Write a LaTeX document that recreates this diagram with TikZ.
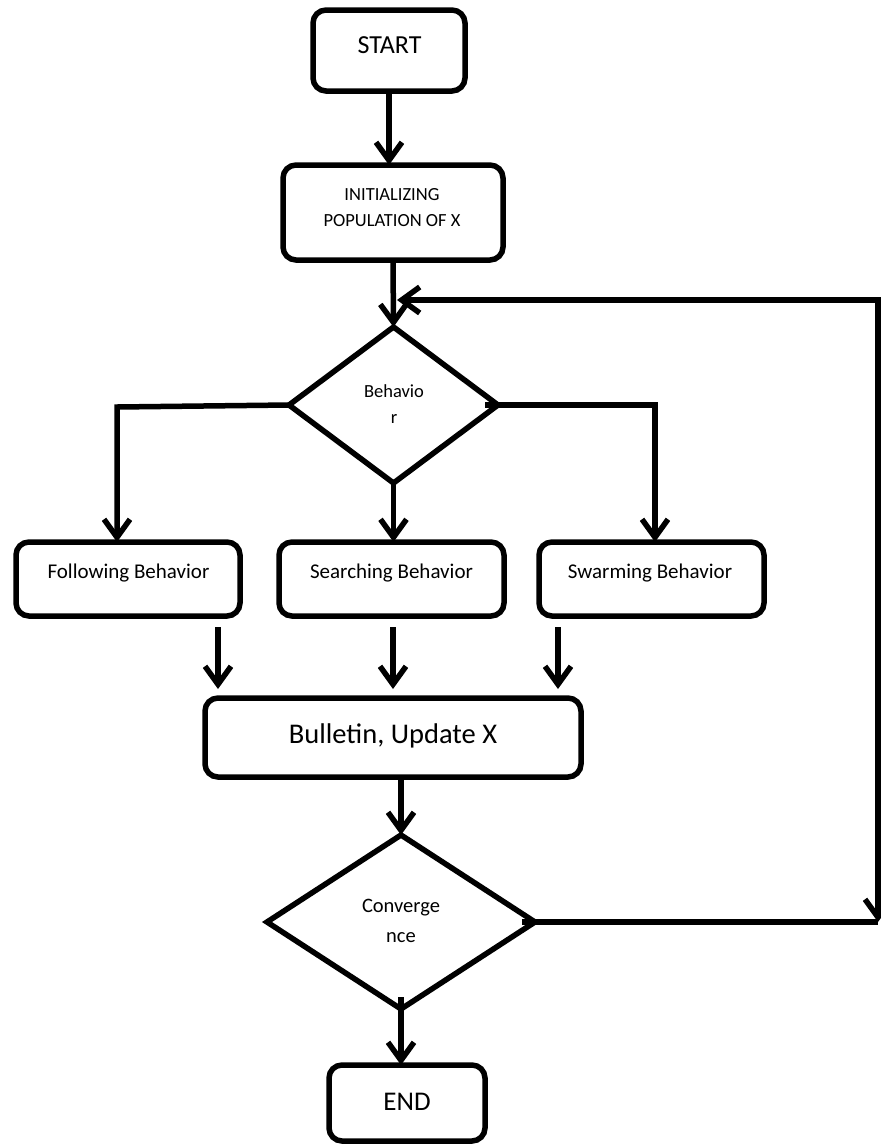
\documentclass[tikz,border=0pt]{standalone}
\usepackage{fontspec}
\setmainfont{Carlito}
\usetikzlibrary{arrows.meta,shapes.geometric,calc}
\begin{document}
\begin{tikzpicture}[x=1pt,y=-1pt,
  every node/.style={inner sep=0pt,outer sep=0pt},
  box/.style={draw,line width=5.5pt,rounded corners=13pt,rectangle},
  dia/.style={draw,line width=5.5pt,diamond,line join=miter},
  txt/.style={align=center,anchor=base},
  conn/.style={line width=5.5pt},
  arr/.style={line width=5.5pt,-{Straight Barb[length=18pt,width=26pt]}},
  fs/.style={font=\fontsize{#1}{30}\selectfont}
]
\useasboundingbox (0,0) rectangle (881,1144);
% boxes
\node[box,minimum width=152,minimum height=81] (start) at (389,50.5) {};
\node[txt,fs=26] (startT) at (389.5,53) {START};
\node[box,minimum width=220,minimum height=95] (init) at (393,212.5) {};
\node[txt,font=\fontsize{18.5}{26}\selectfont] (initT) at (392,226) {INITIALIZING\\POPULATION OF X};
\node[dia,minimum width=209,minimum height=156] (d1) at (393.5,405) {};
\node[txt,font=\fontsize{18.5}{26}\selectfont] (d1T) at (394,423) {Behavio\\r};
\node[box,minimum width=224,minimum height=74] (follow) at (128,579) {};
\node[txt,fs=21] (followT) at (128.5,578.5) {Following Behavior};
\node[box,minimum width=225,minimum height=74] (search) at (391.5,579) {};
\node[txt,fs=21] (searchT) at (391.5,578.5) {Searching Behavior};
\node[box,minimum width=225,minimum height=74] (swarm) at (651.5,579) {};
\node[txt,fs=21] (swarmT) at (650,578.5) {Swarming Behavior};
\node[box,minimum width=376,minimum height=79] (bull) at (393,737.5) {};
\node[txt,fs=28.5] (bullT) at (393,743) {Bulletin, Update X};
\node[dia,minimum width=268,minimum height=174] (d2) at (401,922) {};
\node[txt,font=\fontsize{20.5}{30}\selectfont] (d2T) at (401,942) {Converge\\nce};
\node[box,minimum width=156,minimum height=76] (end) at (407,1103) {};
\node[txt,fs=27] (endT) at (407,1110) {END};
% coordinates
\coordinate (tr) at (878,300);
\coordinate (br) at (878,922);
\coordinate (lb) at (117,407);
\coordinate (rb) at (655,405);
\coordinate (a1s) at (218,627); \coordinate (a1e) at (218,689);
\coordinate (a2s) at (393,627); \coordinate (a2e) at (393,689);
\coordinate (a3s) at (558,627); \coordinate (a3e) at (558,689);
% connectors
\draw[arr] (start.south) -- (start.south |- init.north);
\draw[arr] (init.south) -- (d1.north);
\draw[conn] (d2.east) ++(-13,0) -- (br);
\draw[arr] (tr) -- (br);
\draw[conn] (tr) -- ++(2.75,0);
\draw[arr] (tr) -- ($(init.south |- tr)+(4,0)$);
\draw[arr] (d1.west) -- (lb) -- (lb |- follow.north);
\draw[arr] (d1.south) -- (d1.south |- search.north);
\draw[arr] ($(d1.east)+(-13,0)$) -- (rb) -- (rb |- swarm.north);
\draw[arr] (a1s) -- (a1e);
\draw[arr] (a2s) -- (a2e);
\draw[arr] (a3s) -- (a3e);
\draw[arr] (bull.south -| d2.north) -- (d2.north);
\draw[arr] ($(d2.south)+(0,-12)$) -- (d2.south |- end.north);
\end{tikzpicture}
\end{document}
